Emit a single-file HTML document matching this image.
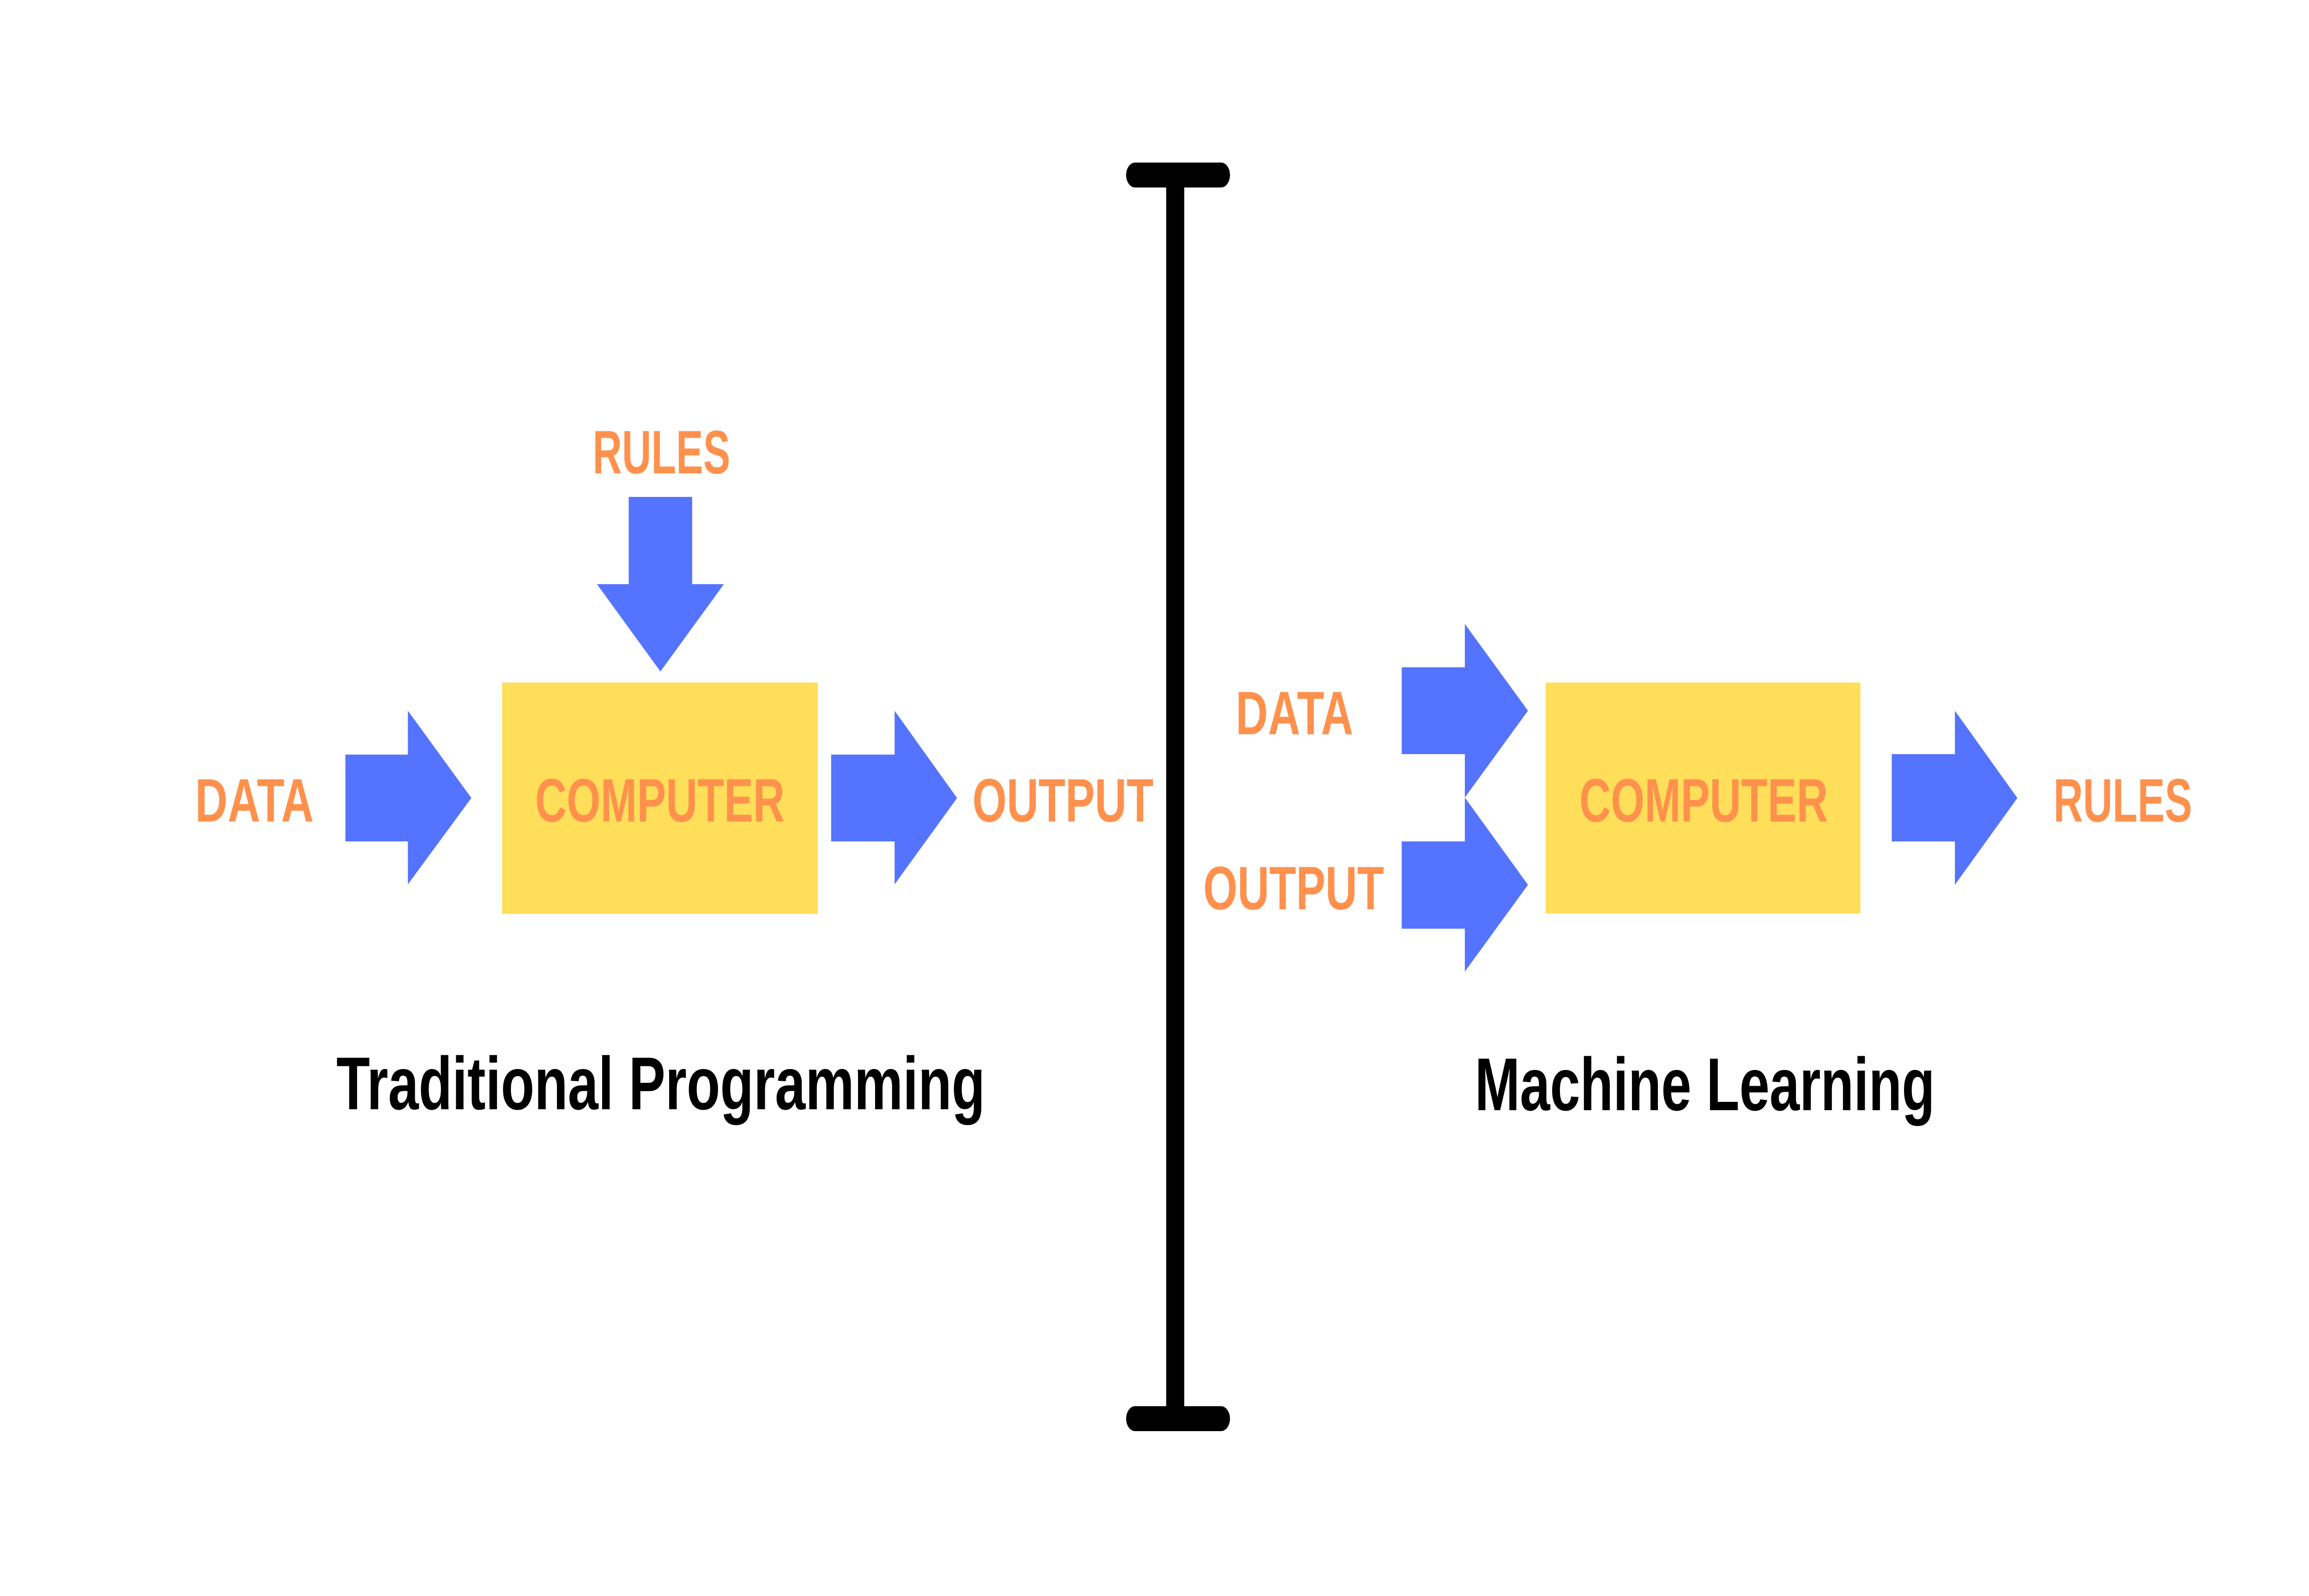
<!DOCTYPE html>
<html><head><meta charset="utf-8"><style>
html,body{margin:0;padding:0;background:#fff;width:100%;height:100%;overflow:hidden;}
svg{display:block;width:100vw;height:100vh;}
text{font-family:"Liberation Sans",sans-serif;font-weight:bold;}
</style></head><body>
<svg viewBox="0 0 6912 3456" preserveAspectRatio="none" xmlns="http://www.w3.org/2000/svg">
<rect width="6912" height="3456" fill="#fff"/>
<g stroke="#000" stroke-width="54" stroke-linecap="round">
<line x1="3518" y1="379" x2="3518" y2="3072"/>
<line x1="3398" y1="379" x2="3655" y2="379"/>
<line x1="3398" y1="3072" x2="3655" y2="3072"/>
</g>
<rect x="1503" y="1478" width="945" height="501" fill="#FFDE59"/>
<g fill="#5474FF">
<polygon points="1034,1634 1221,1634 1221,1539 1411,1728 1221,1915 1221,1822 1034,1822"/>
<polygon points="2488,1634 2678,1634 2678,1539 2865,1728 2678,1915 2678,1822 2488,1822"/>
<polygon points="1882,1076 2072,1076 2072,1265 2167,1265 1977,1454 1787,1265 1882,1265"/>
<polygon points="4196,1445 4385,1445 4385,1351 4574,1539 4385,1727 4385,1633 4196,1633"/>
<polygon points="4196,1822 4385,1822 4385,1727 4574,1916 4385,2104 4385,2011 4196,2011"/>
<polygon points="5663,1633 5852,1633 5852,1539 6039,1728 5852,1916 5852,1822 5663,1822"/>
</g>
<rect x="4627" y="1478" width="942" height="500" fill="#FFDE59"/>
<g fill="#FF914D" font-size="133">
<text x="1774" y="1025" textLength="412" lengthAdjust="spacingAndGlyphs">RULES</text>
<text x="584" y="1779" textLength="355" lengthAdjust="spacingAndGlyphs">DATA</text>
<text x="1602" y="1779" textLength="747" lengthAdjust="spacingAndGlyphs">COMPUTER</text>
<text x="2911" y="1779" textLength="542" lengthAdjust="spacingAndGlyphs">OUTPUT</text>
<text x="3699" y="1590" textLength="352" lengthAdjust="spacingAndGlyphs">DATA</text>
<text x="3602" y="1969" textLength="541" lengthAdjust="spacingAndGlyphs">OUTPUT</text>
<text x="4728" y="1779" textLength="744" lengthAdjust="spacingAndGlyphs">COMPUTER</text>
<text x="6147" y="1779" textLength="415" lengthAdjust="spacingAndGlyphs">RULES</text>
</g>
<g fill="#000" font-size="162">
<text x="1007" y="2402" textLength="1942" lengthAdjust="spacingAndGlyphs">Traditional Programming</text>
<text x="4415" y="2404" textLength="1377" lengthAdjust="spacingAndGlyphs">Machine Learning</text>
</g>
</svg>
</body></html>
